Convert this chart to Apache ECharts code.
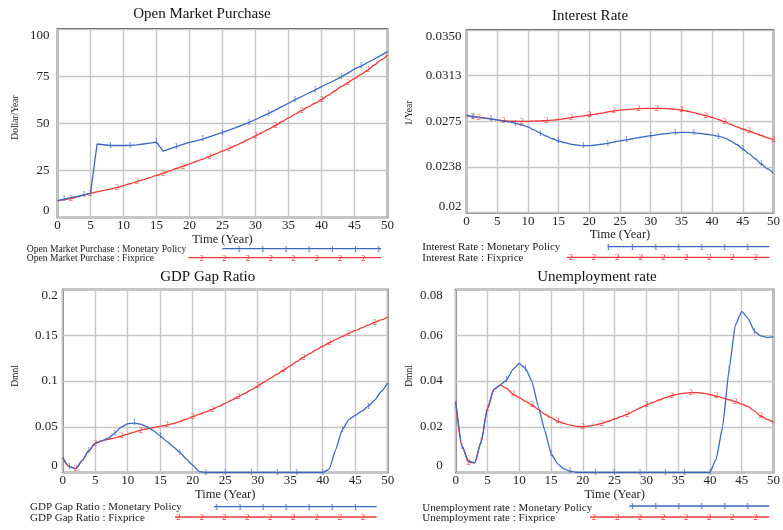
<!DOCTYPE html>
<html>
<head>
<meta charset="utf-8">
<script src="https://cdn.jsdelivr.net/npm/echarts@6/dist/echarts.min.js"></script>
<style>
  html, body { margin: 0; padding: 0; background: #ffffff; }
  #chart { width: 783px; height: 530px; }
</style>
</head>
<body>
<div id="chart"></div>
<script>
// Simulation time axis (years 0..50)
const years = Array.from({ length: 51 }, (_, i) => i);

// Open Market Purchase (Dollar/Year)
const ompMonetary = [9.0, 9.8, 10.5, 11.2, 12.0, 12.8, 39.0, 38.6, 38.2, 38.2, 38.2, 38.3, 38.5, 39.0, 39.5, 40.0,
  35.2, 36.4, 37.6, 38.8, 39.8, 40.7, 41.6, 42.8, 44.0, 45.2, 46.4, 47.7, 49.0, 50.5, 52.0, 53.6, 55.2, 57.0, 58.8,
  60.6, 62.5, 64.2, 65.9, 67.6, 69.4, 71.1, 72.8, 74.6, 76.6, 78.8, 80.3, 82.2, 84.1, 86.0, 88.0];
const ompFixprice = [9.0, 9.4, 10.0, 10.9, 11.9, 12.8, 13.6, 14.4, 15.1, 15.9, 16.9, 17.9, 19.0, 20.1, 21.2, 22.3,
  23.5, 24.7, 26.0, 27.2, 28.4, 29.7, 31.0, 32.4, 33.8, 35.2, 36.7, 38.2, 39.8, 41.5, 43.3, 45.1, 46.9, 48.8, 50.8,
  52.8, 54.8, 56.8, 58.7, 60.6, 62.5, 64.8, 67.1, 69.4, 71.6, 73.7, 75.9, 78.2, 80.9, 83.6, 86.3];

// Interest Rate (1/Year)
const irMonetary = [0.02802, 0.02790, 0.02782, 0.02775, 0.02769, 0.02762, 0.02753, 0.02745, 0.02734, 0.02720,
  0.02704, 0.02680, 0.02653, 0.02628, 0.02607, 0.02589, 0.02575, 0.02563, 0.02555, 0.02551, 0.02551, 0.02556,
  0.02562, 0.02569, 0.02580, 0.02590, 0.02598, 0.02607, 0.02616, 0.02624, 0.02632, 0.02639, 0.02646, 0.02652,
  0.02657, 0.02659, 0.02659, 0.02657, 0.02651, 0.02644, 0.02637, 0.02628, 0.02615, 0.02590, 0.02560, 0.02523,
  0.02485, 0.02443, 0.02400, 0.02360, 0.02323];
const irFixprice = [0.02797, 0.02790, 0.02783, 0.02777, 0.02770, 0.02762, 0.02755, 0.02752, 0.02750, 0.02750,
  0.02750, 0.02752, 0.02754, 0.02756, 0.02760, 0.02765, 0.02772, 0.02780, 0.02788, 0.02795, 0.02802, 0.02810,
  0.02818, 0.02827, 0.02835, 0.02842, 0.02847, 0.02851, 0.02854, 0.02856, 0.02857, 0.02857, 0.02856, 0.02854,
  0.02849, 0.02843, 0.02833, 0.02822, 0.02810, 0.02797, 0.02782, 0.02765, 0.02747, 0.02726, 0.02705, 0.02687,
  0.02670, 0.02652, 0.02634, 0.02615, 0.02597];

// GDP Gap Ratio (Dmnl)
const gdpMonetary = [0.0164, 0.0065, 0.0042, 0.0130, 0.0236, 0.0320, 0.0345, 0.0375, 0.0430, 0.0495, 0.0535,
  0.0540, 0.0528, 0.0498, 0.0455, 0.0400, 0.0340, 0.0282, 0.0222, 0.0150, 0.0080, 0.0010, 0, 0, 0, 0, 0, 0, 0, 0,
  0, 0, 0, 0, 0, 0, 0, 0, 0, 0, 0, 0.0036, 0.0250, 0.0465, 0.0575, 0.0625, 0.0670, 0.0725, 0.0790, 0.0885, 0.0980];
const gdpFixprice = [0.0164, 0.0065, 0.0042, 0.0130, 0.0236, 0.0320, 0.0345, 0.0362, 0.0378, 0.0398, 0.0420,
  0.0442, 0.0462, 0.0478, 0.0492, 0.0505, 0.0518, 0.0535, 0.0556, 0.0582, 0.0610, 0.0636, 0.0662, 0.0690, 0.0722,
  0.0756, 0.0792, 0.0828, 0.0865, 0.0903, 0.0945, 0.0988, 0.1032, 0.1076, 0.1120, 0.1166, 0.1212, 0.1258, 0.1300,
  0.1340, 0.1380, 0.1418, 0.1452, 0.1486, 0.1520, 0.1550, 0.1580, 0.1610, 0.1640, 0.1668, 0.1700];

// Unemployment rate (Dmnl)
const unMonetary = [0.0310, 0.0115, 0.0050, 0.0042, 0.0134, 0.0280, 0.0363, 0.0382, 0.0404, 0.0451, 0.0477,
  0.0455, 0.0397, 0.0288, 0.0185, 0.0083, 0.0039, 0.0016, 0.0006, 0.0001, 0, 0, 0, 0, 0, 0, 0, 0, 0, 0, 0, 0, 0,
  0, 0, 0, 0, 0, 0, 0, 0, 0.0061, 0.0200, 0.0448, 0.0645, 0.0704, 0.0674, 0.0617, 0.0597, 0.0590, 0.0594];
const unFixprice = [0.0310, 0.0115, 0.0045, 0.0042, 0.0134, 0.0280, 0.0363, 0.0382, 0.0368, 0.0343, 0.0327,
  0.0311, 0.0295, 0.0275, 0.0255, 0.0240, 0.0225, 0.0215, 0.0207, 0.0202, 0.0200, 0.0203, 0.0208, 0.0215, 0.0224,
  0.0234, 0.0244, 0.0255, 0.0268, 0.0282, 0.0295, 0.0306, 0.0317, 0.0327, 0.0336, 0.0343, 0.0347, 0.0349, 0.0349,
  0.0346, 0.0341, 0.0334, 0.0326, 0.0318, 0.0310, 0.0299, 0.0288, 0.0268, 0.0247, 0.0232, 0.0218];

// Years at which the run-number markers ("1", "2") sit on each curve
const markYearsMonetary = [
  [1, 4, 8, 11, 15, 18, 22, 25, 29, 32, 36, 39, 43, 46],
  [1, 4, 8, 12, 15, 19, 23, 26, 30, 34, 37, 41, 45, 48],
  [1, 4, 8, 11, 15, 18, 22, 25, 29, 33, 36, 40, 43, 47],
  [1, 4, 8, 11, 15, 18, 22, 25, 29, 33, 36, 40, 43, 47]
];
const markYearsFixprice = [
  [2, 5, 9, 12, 16, 19, 23, 26, 30, 33, 37, 40, 44, 47],
  [1, 2, 6, 9, 13, 17, 20, 24, 28, 31, 35, 39, 42, 46, 50],
  [2, 5, 9, 12, 16, 20, 23, 27, 30, 34, 37, 41, 44, 48],
  [2, 5, 9, 12, 16, 20, 23, 27, 30, 34, 37, 41, 44, 48]
];

// Panel texts
const titles = ['Open Market Purchase', 'Interest Rate', 'GDP Gap Ratio', 'Unemployment rate'];
const units = ['Dollar/Year', '1/Year', 'Dmnl', 'Dmnl'];
const xName = 'Time (Year)';
const runNames = ['Monetary Policy', 'Fixprice'];

const BLUE = '#3a68c0';
const RED = '#f03838';
const SERIF = '"Liberation Serif", "Times New Roman", serif';
const TXT = '#222222';

// Plot boxes
const grids = [
  { left: 57.5, top: 29, width: 330, height: 188.5 },
  { left: 466.5, top: 30, width: 313.5, height: 182.7 },
  { left: 62.7, top: 289.5, width: 325, height: 183 },
  { left: 455.7, top: 289.5, width: 324.3, height: 183 }
].map(g => Object.assign({ show: true, borderColor: '#1c1c1c', borderWidth: 1.6, backgroundColor: '#ffffff' }, g));

const yRanges = [
  { min: 0, max: 100, interval: 25, fmt: v => String(v), margin: 8 },
  { min: 0.02, max: 0.035, interval: 0.00375,
    fmt: v => (Math.abs(v - 0.02) < 1e-9 ? '0.02' : (Math.round(v * 1e4 + 1e-6) / 1e4).toFixed(4)), margin: 5 },
  { min: 0, max: 0.2, interval: 0.05, fmt: v => String(+v.toFixed(4)), margin: 5 },
  { min: 0, max: 0.08, interval: 0.02, fmt: v => String(+v.toFixed(4)), margin: 13 }
];

const splitLineStyle = { show: true, lineStyle: { color: '#c6c6c6', width: 1.4 } };

const xAxes = grids.map((g, i) => ({
  type: 'value', gridIndex: i, min: 0, max: 50, interval: 5,
  axisLine: { show: false }, axisTick: { show: false },
  axisLabel: { color: TXT, fontFamily: SERIF, fontSize: 13, margin: 2 },
  splitLine: splitLineStyle,
  name: xName, nameLocation: 'middle', nameGap: 12,
  nameTextStyle: { color: TXT, fontFamily: SERIF, fontSize: 12.5 }
}));

const yAxes = yRanges.map((r, i) => ({
  type: 'value', gridIndex: i, min: r.min, max: r.max, interval: r.interval,
  axisLine: { show: false }, axisTick: { show: false },
  axisLabel: {
    color: TXT, fontFamily: SERIF, fontSize: 13, margin: r.margin, formatter: r.fmt,
    verticalAlignMinLabel: 'bottom', verticalAlignMaxLabel: 'top'
  },
  splitLine: splitLineStyle
}));

const panels = [
  [ompMonetary, ompFixprice],
  [irMonetary, irFixprice],
  [gdpMonetary, gdpFixprice],
  [unMonetary, unFixprice]
];

// Curve smoothing per panel: [Monetary Policy, Fixprice]
const smoothing = [[0, 0.3], [0.35, 0.35], [0.15, 0.3], [0.12, 0.3]];

function curve(idx, values, color, smooth) {
  return {
    type: 'line', xAxisIndex: idx, yAxisIndex: idx,
    data: values.map((v, k) => [years[k], v]),
    symbol: 'none', smooth: smooth || false, smoothMonotone: 'x',
    lineStyle: { color, width: 1.3 }, silent: true, z: 3
  };
}

function runMarks(idx, values, at, color, text) {
  return {
    type: 'scatter', xAxisIndex: idx, yAxisIndex: idx,
    data: at.map(t => [years[t], values[t]]),
    symbol: 'circle', symbolSize: 1, itemStyle: { color: 'rgba(0,0,0,0)' },
    label: { show: true, position: 'inside', formatter: text, color, fontFamily: SERIF, fontSize: 9 },
    silent: true, z: 4
  };
}

const series = [];
panels.forEach(([mon, fix], i) => {
  series.push(curve(i, fix, RED, smoothing[i][1]));
  series.push(curve(i, mon, BLUE, smoothing[i][0]));
  series.push(runMarks(i, fix, markYearsFixprice[i], RED, '2'));
  series.push(runMarks(i, mon, markYearsMonetary[i], BLUE, '1'));
});

// Decorations: titles, unit labels, run legends
const titlePos = [[202, 14], [590, 16], [207.7, 277], [597, 277]];
const unitPos = [[15, 117.5], [409.3, 113], [15, 376], [409, 376]];

// Legend layout per panel: text x, row y's, font size, line spans, marker x positions
const legends = [
  { tx: 26.7, rows: [249.3, 258.3], fs: 9.6,
    lines: [[222.3, 381, 248.7], [188.3, 381, 257.7]],
    m1: [239, 262.7, 286, 309, 332.3, 355.3, 378.7],
    m2: [201.7, 224.3, 247.7, 270.7, 293.3, 316.7, 340, 363.3] },
  { tx: 422.3, rows: [247.3, 258.3], fs: 11,
    lines: [[607.3, 769.3, 246.7], [566.7, 769.3, 257.3]],
    m1: [608.3, 632.3, 655.7, 678.7, 701.7, 724.7, 747.7],
    m2: [571, 594, 617.3, 640.7, 663.3, 686.3, 709.3, 732.3, 755.7] },
  { tx: 30, rows: [507.3, 518.3], fs: 11,
    lines: [[214, 376.7, 506.7], [175, 376.7, 517]],
    m1: [216.7, 240, 263, 286, 309, 332, 355.3],
    m2: [178.3, 201.7, 224.3, 247.3, 270.3, 293.3, 316.7, 340, 363] },
  { tx: 422.3, rows: [507.7, 518.3], fs: 11,
    lines: [[629.3, 769.3, 506], [590, 769.3, 517]],
    m1: [632.3, 655.7, 678.7, 701.7, 724.7, 747.7],
    m2: [594, 617.3, 640, 663.3, 686.3, 709.3, 732.3, 755.7] }
];

const graphic = [];
titles.forEach((t, i) => {
  graphic.push({ type: 'text', x: titlePos[i][0], y: titlePos[i][1], silent: true,
    style: { text: t, fill: '#111', font: '15px ' + SERIF, align: 'center', verticalAlign: 'middle' } });
  graphic.push({ type: 'text', x: unitPos[i][0], y: unitPos[i][1], rotation: Math.PI / 2, silent: true,
    style: { text: units[i], fill: TXT, font: '9.5px ' + SERIF, align: 'center', verticalAlign: 'middle' } });
  const L = legends[i];
  runNames.forEach((rn, r) => {
    graphic.push({ type: 'text', x: L.tx, y: L.rows[r], silent: true,
      style: { text: t + ' : ' + rn, fill: TXT, font: L.fs + 'px ' + SERIF, align: 'left', verticalAlign: 'middle' } });
    const [x1, x2, y] = L.lines[r];
    const col = r === 0 ? BLUE : RED;
    graphic.push({ type: 'line', silent: true, shape: { x1, y1: y, x2, y2: y }, style: { stroke: col, lineWidth: 1.3 } });
    (r === 0 ? L.m1 : L.m2).forEach(mx => {
      graphic.push({ type: 'text', x: mx, y: y + 0.5, silent: true,
        style: { text: r === 0 ? '1' : '2', fill: col, font: '9px ' + SERIF, align: 'center', verticalAlign: 'middle' } });
    });
  });
});

const chart = echarts.init(document.getElementById('chart'), null, { renderer: 'canvas' });
chart.setOption({
  backgroundColor: '#ffffff',
  animation: false,
  grid: grids,
  xAxis: xAxes,
  yAxis: yAxes,
  series,
  graphic
});
</script>
</body>
</html>
